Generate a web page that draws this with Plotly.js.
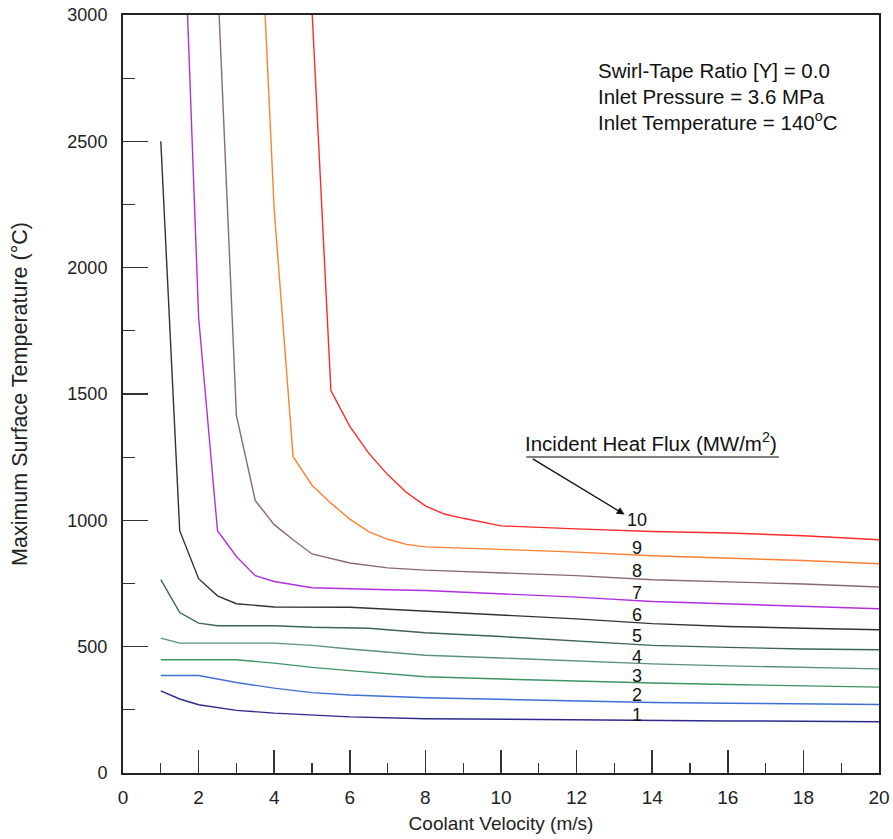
<!DOCTYPE html>
<html>
<head>
<meta charset="utf-8">
<script src="https://cdn.plot.ly/plotly-3.0.1.min.js"></script>
<style>html,body{margin:0;padding:0;background:#fff;}#chart{width:893px;height:839px;}</style>
</head>
<body>
<div id="chart"></div>
<script>
// Incident heat flux (MW/m^2) curves: coolant velocity (m/s) vs max surface temperature (°C)
const fluxLabels = ["1","2","3","4","5","6","7","8","9","10"];

const x1 = [1,1.5,2,3,4,5,6,8,10,12,14,16,18,20];
const y1 = [325,293,270,248,237,228,222,215,212,209,207,206,205,203];

const x2 = [1,2,3,4,5,6,8,10,12,14,16,18,20];
const y2 = [386,386,358,336,318,309,298,292,285,279,276,274,271];

const x3 = [1,3,4,5,6,8,10,12,14,16,18,20];
const y3 = [448,448,435,418,405,381,372,363,356,350,345,340];

const x4 = [1,1.5,4,5,6,8,10,12,14,16,18,20];
const y4 = [534,514,514,505,491,466,455,443,432,424,417,412];

const x5 = [1,1.5,2,2.5,4,5,6.5,8,10,12,14,16,18,20];
const y5 = [765,635,593,583,583,577,573,555,540,523,505,497,491,488];

const x6 = [1,1.5,2,2.5,3,4,6,8,10,12,14,16,18,20];
const y6 = [2500,959,769,701,670,657,656,640,626,610,591,580,573,567];

const x7 = [1.5,2,2.5,3,3.5,4,5,6,7,8,10,12,14,16,18,20];
const y7 = [3850,1804,959,857,781,758,733,728,725,722,708,696,679,669,659,650];

const x8 = [2.5,3,3.5,4,4.5,5,6,7,8,10,12,14,16,18,20];
const y8 = [3150,1415,1078,983,923,867,831,812,803,792,781,765,757,748,736];

const x9 = [3.5,4,4.5,5,5.5,6,6.5,7,7.5,8,10,12,14,16,18,20];
const y9 = [3830,2230,1252,1139,1068,1005,955,925,905,895,885,874,860,851,841,828];

const x10 = [5,5.5,6,6.5,7,7.5,8,8.5,9,10,12,14,16,18,20];
const y10 = [3020,1514,1372,1266,1181,1110,1057,1025,1008,978,966,956,950,939,923];

// label positions for curve numbers
const labelX = [13.6,13.6,13.6,13.6,13.6,13.6,13.6,13.6,13.6,13.6];
const labelY = [230,309,382,461,543,626,712,800,891,1001];

const xs = [x1,x2,x3,x4,x5,x6,x7,x8,x9,x10];
const ys = [y1,y2,y3,y4,y5,y6,y7,y8,y9,y10];
const colors = ["#2e2a8c","#3f6fd6","#3d9467","#5b8f80","#3b6459","#333333","#b030e0","#8a6a6e","#ff8030","#ff2a2a"];

const traces = xs.map((x,i)=>({
  x:x, y:ys[i], type:"scatter", mode:"lines",
  line:{color:colors[i], width:1.4}, showlegend:false, hoverinfo:"skip"
}));

const F = "Liberation Sans, Arial, sans-serif";

const annotations = fluxLabels.map((t,i)=>({
  x:labelX[i], y:labelY[i], xref:"x", yref:"y", text:t, showarrow:false,
  font:{family:F, size:18, color:"#111"}, xanchor:"center", yanchor:"middle"
}));

const infoLines = ["Swirl-Tape Ratio [Y] = 0.0","Inlet Pressure = 3.6 MPa","Inlet Temperature = 140<sup>o</sup>C"];
const infoY = [2782,2679,2580];
infoLines.forEach((t,i)=>annotations.push({
  x:12.5, y:infoY[i], xref:"x", yref:"y", text:t, showarrow:false,
  font:{family:F, size:20.5, color:"#111"}, xanchor:"left", yanchor:"middle"
}));

annotations.push({
  x:13.98, y:1312, xref:"x", yref:"y", text:"Incident Heat Flux (MW/m<sup>2</sup>)", showarrow:false,
  font:{family:F, size:20.5, color:"#111"}, xanchor:"center", yanchor:"middle"
});
annotations.push({
  x:13.27, y:1023, ax:10.8, ay:1247, xref:"x", yref:"y", axref:"x", ayref:"y",
  text:"", showarrow:true, arrowhead:2, arrowsize:1.2, arrowwidth:1.3, arrowcolor:"#111"
});

const shapes = [{
  type:"line", xref:"x", yref:"y", x0:10.67, x1:17.35, y0:1251, y1:1251,
  line:{color:"#555", width:1.5}
}];

const axisCommon = {
  showgrid:false, zeroline:false, showline:true, mirror:true,
  linecolor:"#222", linewidth:2, ticks:"inside", tickcolor:"#333", tickwidth:1.5
};

const layout = {
  width:893, height:839,
  margin:{l:123, r:14, t:15, b:66},
  paper_bgcolor:"#fff", plot_bgcolor:"#fff",
  xaxis:Object.assign({}, axisCommon, {
    range:[0,20], dtick:2, tick0:0, ticklen:23,
    minor:{dtick:1, ticklen:10, ticks:"inside", tickcolor:"#333", tickwidth:1.2},
    tickfont:{family:F, size:19, color:"#222"},
    ticklabelstandoff:6,
    title:{text:"Coolant Velocity (m/s)", font:{family:F, size:19, color:"#222"}, standoff:10}
  }),
  yaxis:Object.assign({}, axisCommon, {
    range:[0,3000], dtick:500, tick0:0, ticklen:25,
    minor:{dtick:250, ticklen:12, ticks:"inside", tickcolor:"#333", tickwidth:1.2},
    tickfont:{family:F, size:18, color:"#222"},
    ticklabelstandoff:10,
    title:{text:"Maximum Surface Temperature (°C)", font:{family:F, size:21.5, color:"#222"}, standoff:34}
  }),
  annotations:annotations,
  shapes:shapes
};

Plotly.newPlot("chart", traces, layout, {displayModeBar:false, staticPlot:true});
</script>
</body>
</html>
